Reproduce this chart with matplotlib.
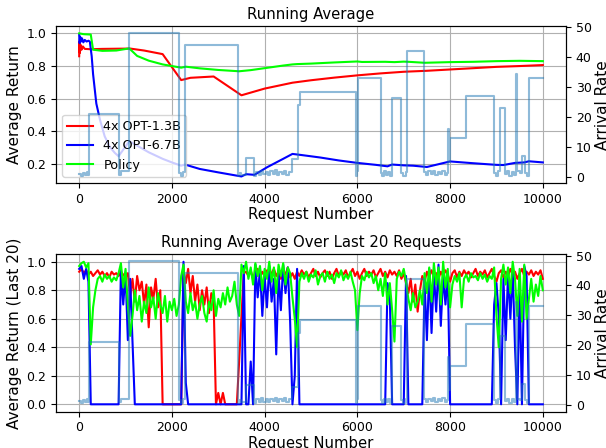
import matplotlib
matplotlib.use("Agg")
import matplotlib.pyplot as plt

# ---------------- data ----------------
labels = ["4x OPT-1.3B", "4x OPT-6.7B", "Policy"]

# Top panel: running average (read-off key points)
red_top_x = [0, 5, 15, 30, 50, 80, 120, 250, 500, 800, 1100, 1400, 1800, 2200, 2400,
             2900, 3500, 4000, 4600, 5000, 5500, 6000, 6500, 7000, 7500, 8000, 8500,
             9000, 9500, 10000]
red_top_y = [0.86, 0.95, 0.88, 0.93, 0.90, 0.92, 0.905, 0.903, 0.905, 0.906, 0.907,
             0.895, 0.873, 0.714, 0.728, 0.736, 0.621, 0.662, 0.698, 0.713, 0.729,
             0.743, 0.755, 0.765, 0.771, 0.779, 0.787, 0.795, 0.800, 0.806]

blue_top_x = [0, 10, 20, 40, 60, 90, 120, 160, 200, 230, 270, 300, 370, 450, 550, 660,
              770, 850, 1080, 1500, 1800, 2000, 2200, 2280, 2600, 3000, 3400, 3500,
              3600, 3780, 4050, 4400, 4600, 4800, 5200, 5600, 6000, 6400, 6650, 6750,
              7000, 7200, 7500, 8000, 8500, 9000, 9150, 9400, 9600, 9700, 10000]
blue_top_y = [0.99, 0.94, 0.98, 0.95, 0.97, 0.945, 0.96, 0.95, 0.955, 0.95, 0.86, 0.75,
              0.57, 0.47, 0.37, 0.305, 0.268, 0.248, 0.34, 0.272, 0.232, 0.21, 0.19,
              0.197, 0.17, 0.149, 0.129, 0.124, 0.138, 0.134, 0.18, 0.232, 0.262, 0.255,
              0.24, 0.222, 0.207, 0.195, 0.186, 0.197, 0.192, 0.19, 0.182, 0.216, 0.205,
              0.195, 0.194, 0.207, 0.21, 0.217, 0.21]

green_top_x = [0, 100, 250, 300, 500, 800, 1080, 1250, 1500, 1800, 2200, 2300, 2600,
               3000, 3450, 3700, 4050, 4400, 4600, 4700, 5000, 5500, 6000, 6100, 6600,
               6800, 7000, 7100, 7450, 8000, 8500, 9000, 9500, 10000]
green_top_y = [1.0, 0.995, 0.993, 0.90, 0.893, 0.895, 0.908, 0.862, 0.833, 0.81, 0.79,
               0.796, 0.786, 0.776, 0.768, 0.775, 0.789, 0.803, 0.81, 0.812, 0.815,
               0.822, 0.828, 0.825, 0.826, 0.824, 0.827, 0.826, 0.82, 0.824, 0.826,
               0.83, 0.832, 0.83]

# Arrival rate (step changes)
arr_x = [0, 40, 80, 120, 160, 200, 220, 850, 900, 1080, 2160, 2200, 2240, 2290, 3420,
         3450, 3500, 3600, 3770, 3820, 3870, 3920, 3970, 4020, 4070, 4120, 4170, 4220,
         4270, 4320, 4370, 4420, 4470, 4520, 4580, 4710, 4760, 5960, 5990, 6020, 6500,
         6540, 6580, 6620, 6670, 6710, 6750, 6940, 6990, 7040, 7070, 7430, 7480, 7530,
         7580, 7630, 7680, 7730, 7780, 7830, 7880, 7930, 7965, 7985, 8000, 8350, 8950,
         8990, 9030, 9080, 9180, 9230, 9280, 9330, 9380, 9420, 9435, 9500, 9550, 9620,
         9660, 9700, 10000]
arr_r = [1.2, 0.5, 1.5, 0.7, 1.9, 0.9, 21.0, 0.8, 2.0, 48.0, 1.5, 0.4, 1.8, 44.0, 0.5,
         1.6, 0.8, 6.5, 0.6, 1.8, 0.9, 2.2, 1.0, 1.9, 0.7, 2.0, 1.2, 2.3,
         0.8, 1.7, 1.1, 2.1, 0.9, 1.8, 6.0, 24.0, 28.5, 0.5, 2.0, 33.0, 1.5,
         0.4, 2.0, 0.8, 1.8, 0.5, 26.5, 1.6, 0.6, 1.9, 42.0, 1.8, 0.9, 2.0,
         1.2, 2.2, 0.8, 1.9, 1.1, 2.1, 0.7, 1.6, 16.0, 5.0, 13.0, 27.0, 1.5,
         0.5, 2.0, 23.0, 1.2, 2.0, 0.6, 1.8, 0.9, 34.5, 2.0, 1.5, 7.0, 1.5,
         0.5, 33.0, 33.0]

# Bottom panel: running average over last 20 requests (every 50 requests)
bot_x = list(range(0, 10001, 50))

red_bot = [
    0.93, 0.95, 0.92, 0.94, 0.91, 0.93, 0.90, 0.92, 0.94, 0.91,   # 0-450
    0.93, 0.90, 0.92, 0.89, 0.93, 0.91, 0.92, 0.90, 0.93, 0.91,   # 500-950
    0.89, 0.92, 0.76, 0.88, 0.72, 0.90, 0.80, 0.86, 0.70, 0.84,   # 1000-1450
    0.54, 0.82, 0.74, 0.88, 0.68, 0.80, 0.00, 0.00, 0.00, 0.00,   # 1500-1950
    0.00, 0.00, 0.00, 0.00, 0.00, 0.93, 0.85, 0.95, 0.78, 0.90,   # 2000-2450
    0.72, 0.84, 0.66, 0.80, 0.70, 0.82, 0.64, 0.78, 0.72, 0.00,   # 2500-2950
    0.08, 0.00, 0.08, 0.00, 0.00, 0.00, 0.00, 0.00, 0.00, 0.30,   # 3000-3450
    0.62, 0.92, 0.93, 0.90, 0.94, 0.88, 0.92, 0.95, 0.89, 0.93,   # 3500-3950
    0.90, 0.94, 0.87, 0.92, 0.95, 0.90, 0.93, 0.88, 0.94, 0.91,   # 4000-4450
    0.96, 0.89, 0.92, 0.88, 0.93, 0.90, 0.94, 0.91, 0.93, 0.89,   # 4500-4950
    0.92, 0.95, 0.90, 0.93, 0.89, 0.92, 0.94, 0.90, 0.93, 0.88,   # 5000-5450
    0.92, 0.95, 0.90, 0.93, 0.91, 0.94, 0.89, 0.92, 0.95, 0.90,   # 5500-5950
    0.93, 0.88, 0.92, 0.95, 0.90, 0.93, 0.91, 0.94, 0.89, 0.92,   # 6000-6450
    0.95, 0.90, 0.93, 0.89, 0.94, 0.91, 0.93, 0.90, 0.94, 0.88,   # 6500-6950
    0.92, 0.85, 0.78, 0.88, 0.72, 0.84, 0.65, 0.80, 0.90, 0.86,   # 7000-7450
    0.93, 0.89, 0.94, 0.90, 0.92, 0.88, 0.93, 0.90, 0.94, 0.91,   # 7500-7950
    0.86, 0.92, 0.94, 0.89, 0.93, 0.90, 0.94, 0.91, 0.93, 0.89,   # 8000-8450
    0.92, 0.95, 0.90, 0.93, 0.91, 0.94, 0.89, 0.92, 0.95, 0.90,   # 8500-8950
    0.86, 0.92, 0.94, 0.89, 0.93, 0.90, 0.95, 0.91, 0.93, 0.88,   # 9000-9450
    0.92, 0.95, 0.90, 0.93, 0.91, 0.94, 0.90, 0.93, 0.91, 0.94,   # 9500-9950
    0.88]                                                          # 10000

blue_bot = [
    0.95, 0.97, 0.88, 0.95, 0.86, 0.00, 0.00, 0.00, 0.00, 0.00,   # 0-450
    0.00, 0.00, 0.00, 0.00, 0.00, 0.00, 0.00, 0.00, 0.95, 0.70,   # 500-950
    0.92, 0.45, 0.88, 0.45, 0.00, 0.00, 0.00, 0.00, 0.00, 0.00,   # 1000-1450
    0.00, 0.00, 0.00, 0.00, 0.00, 0.00, 0.00, 0.00, 0.00, 0.00,   # 1500-1950
    0.00, 0.00, 0.00, 0.00, 0.00, 1.00, 0.15, 0.00, 0.00, 0.00,   # 2000-2450
    0.00, 0.00, 0.00, 0.00, 0.00, 0.00, 0.00, 0.00, 0.00, 0.00,   # 2500-2950
    0.00, 0.00, 0.00, 0.00, 0.00, 0.00, 0.00, 0.00, 0.00, 0.00,   # 3000-3450
    0.00, 0.97, 0.00, 0.00, 0.30, 0.00, 0.98, 0.75, 0.95, 0.62,   # 3500-3950
    0.90, 0.68, 0.97, 0.72, 0.88, 0.35, 0.92, 0.66, 0.98, 0.78,   # 4000-4450
    0.96, 0.58, 0.00, 0.20, 0.95, 0.00, 0.00, 0.00, 0.00, 0.00,   # 4500-4950
    0.00, 0.00, 0.00, 0.00, 0.00, 0.00, 0.00, 0.00, 0.00, 0.00,   # 5000-5450
    0.00, 0.00, 0.00, 0.00, 0.00, 0.00, 0.00, 0.00, 0.00, 0.00,   # 5500-5950
    0.00, 0.00, 0.00, 0.00, 0.00, 0.00, 0.00, 0.00, 0.00, 0.00,   # 6000-6450
    0.00, 0.00, 0.00, 0.85, 0.75, 0.00, 0.00, 0.00, 0.00, 0.00,   # 6500-6950
    0.00, 0.90, 0.00, 0.00, 0.00, 0.00, 0.00, 0.00, 0.00, 0.85,   # 7000-7450
    0.45, 0.95, 0.50, 0.92, 0.65, 0.98, 0.55, 0.90, 0.70, 0.92,   # 7500-7950
    0.00, 0.00, 0.00, 0.00, 0.00, 0.00, 0.00, 0.00, 0.00, 0.00,   # 8000-8450
    0.00, 0.00, 0.00, 0.00, 0.00, 0.00, 0.00, 0.00, 0.00, 0.70,   # 8500-8950
    0.85, 0.62, 0.00, 0.88, 0.45, 0.92, 0.60, 0.95, 0.40, 0.00,   # 9000-9450
    0.85, 0.00, 0.97, 0.90, 0.00, 0.00, 0.00, 0.00, 0.00, 0.00,   # 9500-9950
    0.00]                                                          # 10000

green_bot = [
    0.97, 0.99, 1.00, 0.96, 0.99, 0.42, 0.68, 0.80, 0.88, 0.90,   # 0-450
    0.86, 0.91, 0.88, 0.90, 0.86, 0.89, 0.87, 0.92, 0.99, 0.82,   # 500-950
    0.95, 0.70, 0.48, 0.62, 0.80, 0.66, 0.76, 0.58, 0.72, 0.64,   # 1000-1450
    0.82, 0.68, 0.75, 0.60, 0.78, 0.70, 0.64, 0.76, 0.58, 0.72,   # 1500-1950
    0.66, 0.74, 0.62, 0.70, 0.90, 0.98, 0.72, 0.64, 0.78, 0.66,   # 2000-2450
    0.72, 0.60, 0.70, 0.76, 0.64, 0.58, 0.72, 0.66, 0.80, 0.62,   # 2500-2950
    0.74, 0.68, 0.78, 0.70, 0.82, 0.72, 0.76, 0.86, 0.70, 0.62,   # 3000-3450
    0.98, 0.92, 1.00, 0.88, 0.96, 0.84, 0.99, 0.90, 0.97, 0.80,   # 3500-3950
    0.95, 0.88, 1.00, 0.86, 0.96, 0.78, 0.98, 0.90, 0.99, 0.84,   # 4000-4450
    0.96, 0.92, 0.75, 0.60, 0.40, 0.86, 0.92, 0.88, 0.93, 0.86,   # 4500-4950
    0.91, 0.89, 0.94, 0.84, 0.90, 0.92, 0.86, 0.93, 0.88, 0.91,   # 5000-5450
    0.85, 0.92, 0.89, 0.94, 0.87, 0.91, 0.88, 0.93, 0.86, 0.80,   # 5500-5950
    0.52, 0.78, 0.90, 0.87, 0.93, 0.89, 0.92, 0.85, 0.90, 0.80,   # 6000-6450
    0.88, 0.76, 0.92, 0.70, 0.85, 0.66, 0.44, 0.88, 0.93, 0.90,   # 6500-6950
    0.95, 0.86, 0.74, 0.66, 0.78, 0.68, 0.72, 0.80, 0.70, 0.92,   # 7000-7450
    0.78, 0.96, 0.72, 0.99, 0.84, 0.96, 0.70, 1.00, 0.82, 0.95,   # 7500-7950
    0.68, 0.84, 0.90, 0.86, 0.92, 0.68, 0.88, 0.91, 0.86, 0.92,   # 8000-8450
    0.89, 0.90, 0.87, 0.92, 0.88, 0.91, 0.86, 0.90, 0.88, 0.96,   # 8500-8950
    0.62, 0.40, 0.88, 0.98, 0.84, 0.96, 0.78, 1.00, 0.88, 0.62,   # 9000-9450
    0.95, 0.58, 0.98, 0.60, 0.74, 0.88, 0.72, 0.84, 0.76, 0.90,   # 9500-9950
    0.80]                                                          # 10000

colors = ["red", "blue", "lime"]
arrival_color = "C0"

# ---------------- plot ----------------
plt.rcParams["font.family"] = ["DejaVu Sans"]
fig = plt.figure(figsize=(6.06, 4.48), dpi=100)

ax1 = fig.add_axes([0.0924, 0.5908, 0.8416, 0.3511])
ax3 = fig.add_axes([0.0924, 0.0810, 0.8416, 0.3513])

TICK = 9
LAB = 11
TIT = 10.7

# top
ax1.plot(red_top_x, red_top_y, color=colors[0], lw=1.5, label=labels[0])
ax1.plot(blue_top_x, blue_top_y, color=colors[1], lw=1.5, label=labels[1])
ax1.plot(green_top_x, green_top_y, color=colors[2], lw=1.5, label=labels[2])
ax1.set_xlim(-500, 10500)
ax1.set_ylim(0.082, 1.045)
ax1.set_yticks([0.2, 0.4, 0.6, 0.8, 1.0])
ax1.grid(True)
ax1.set_title("Running Average", fontsize=TIT, pad=5)
ax1.set_xlabel("Request Number", fontsize=TIT, labelpad=1)
ax1.set_ylabel("Average Return", fontsize=LAB, labelpad=3)
ax1.tick_params(labelsize=TICK)
ax1.legend(loc="lower left", fontsize=9.2)

ax2 = ax1.twinx()
ax2.plot(arr_x, arr_r, drawstyle="steps-post", color=arrival_color, alpha=0.5, lw=1.5)
ax2.set_ylim(-2.0, 50.4)
ax2.set_yticks([0, 10, 20, 30, 40, 50])
ax2.set_ylabel("Arrival Rate", fontsize=LAB, labelpad=2)
ax2.tick_params(labelsize=TICK)

# bottom
ax3.plot(bot_x, red_bot, color=colors[0], lw=1.5)
ax3.plot(bot_x, blue_bot, color=colors[1], lw=1.5)
ax3.plot(bot_x, green_bot, color=colors[2], lw=1.5)
ax3.set_xlim(-500, 10500)
ax3.set_ylim(-0.052, 1.052)
ax3.set_yticks([0.0, 0.2, 0.4, 0.6, 0.8, 1.0])
ax3.grid(True)
ax3.set_title("Running Average Over Last 20 Requests", fontsize=TIT, pad=5)
ax3.set_xlabel("Request Number", fontsize=TIT, labelpad=1)
ax3.set_ylabel("Average Return (Last 20)", fontsize=LAB, labelpad=3)
ax3.tick_params(labelsize=TICK)

ax4 = ax3.twinx()
ax4.plot(arr_x, arr_r, drawstyle="steps-post", color=arrival_color, alpha=0.5, lw=1.5)
ax4.set_ylim(-2.4, 50.4)
ax4.set_yticks([0, 10, 20, 30, 40, 50])
ax4.set_ylabel("Arrival Rate", fontsize=LAB, labelpad=2)
ax4.tick_params(labelsize=TICK)

fig.savefig("out.png", dpi=100)
